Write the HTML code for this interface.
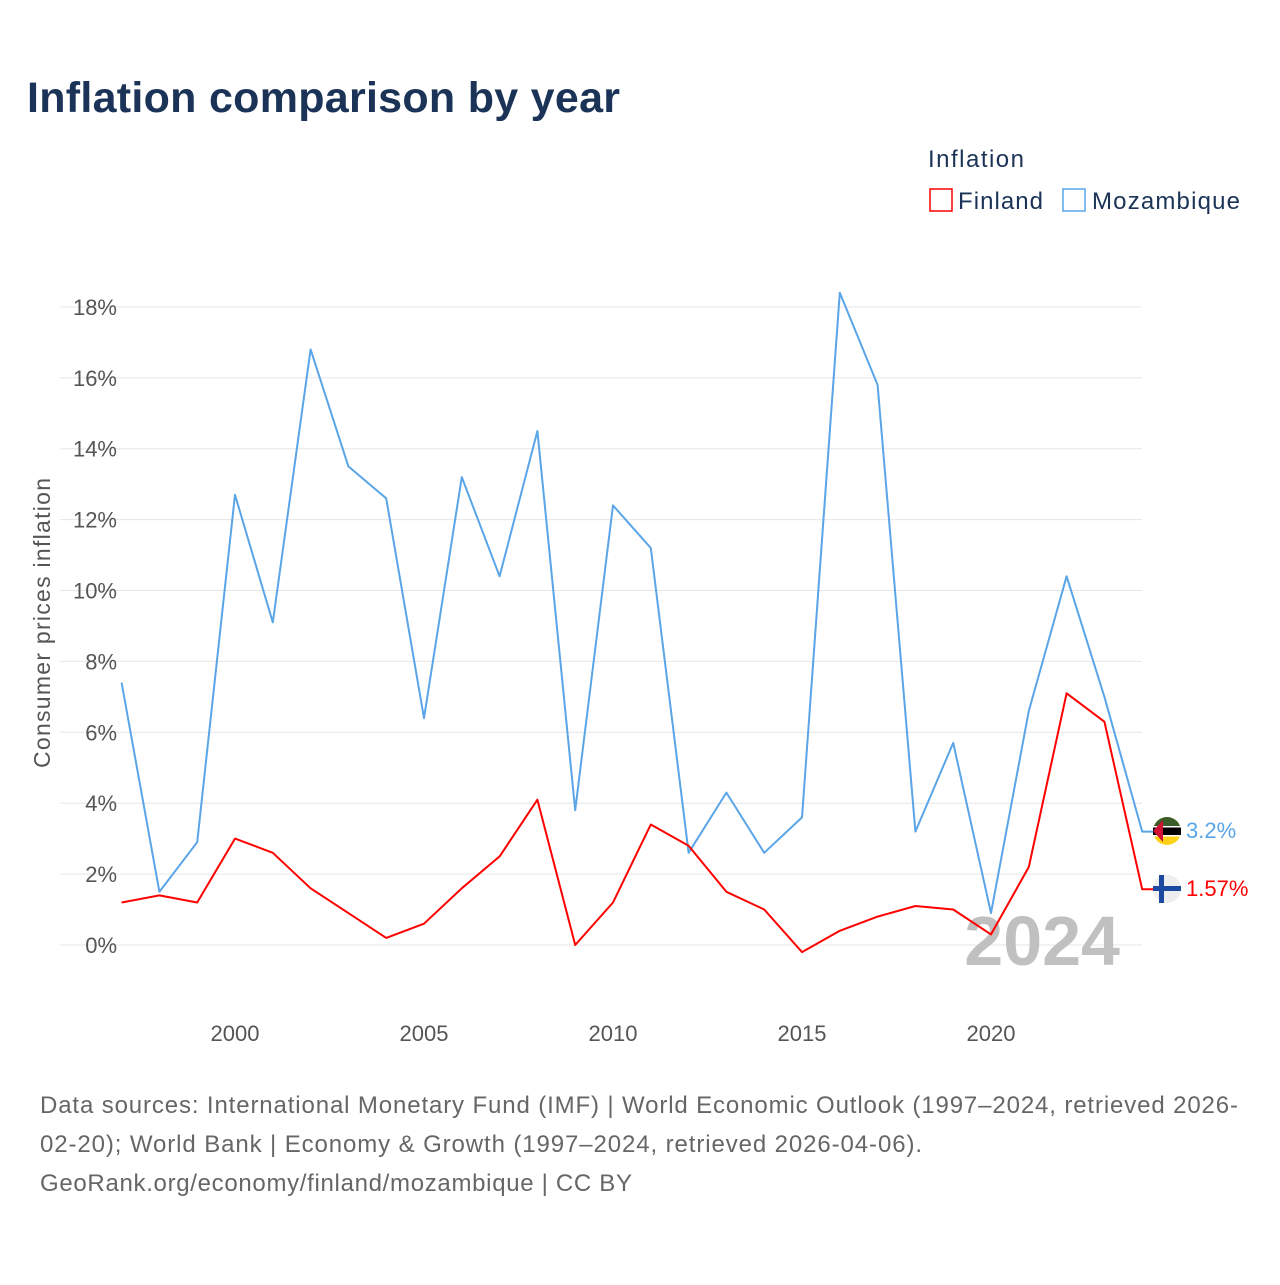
<!DOCTYPE html>
<html><head><meta charset="utf-8"><style>
body{margin:0;background:#fff;font-family:"Liberation Sans",sans-serif;}
svg text{font-family:"Liberation Sans",sans-serif;}
</style></head><body>
<svg width="1280" height="1280" viewBox="0 0 1280 1280">
<text x="27" y="112" font-size="43" font-weight="bold" fill="#1a3356" textLength="593">Inflation comparison by year</text>
<g>
<text x="928" y="167" font-size="24" fill="#1a3356" textLength="96">Inflation</text>
<g><rect x="930" y="189" width="22" height="22" fill="none" stroke="#f00" stroke-width="1.5"/><text x="958" y="209" font-size="24" fill="#1a3356" textLength="85">Finland</text></g>
<g><rect x="1063" y="189" width="22" height="22" fill="none" stroke="#5aa5e8" stroke-width="1.5"/><text x="1092" y="209" font-size="24" fill="#1a3356" textLength="148">Mozambique</text></g>
</g>
<g id="grid"></g>
<g id="yticks"></g>
<g id="xticks"></g>
<text transform="translate(50,623) rotate(-90)" text-anchor="middle" font-size="23" fill="#555" textLength="290">Consumer prices inflation</text>
<text x="1120" y="965" text-anchor="end" font-size="70" font-weight="bold" fill="#c0c0c0">2024</text>
<g id="series"></g>
<g>
<circle cx="1167" cy="831" r="14" fill="#fcd116"/><path d="M1153,831 A14,14 0 0 1 1181,831 Z" fill="#3a5e2a"/><rect x="1153" y="827" width="28" height="8" fill="#000"/><rect x="1153" y="826" width="28" height="1.5" fill="#fff"/><rect x="1153" y="835" width="28" height="1.5" fill="#fff"/><path d="M1153,831 L1163,820 L1163,842 Z" fill="#d21034"/>
</g>
<g>
<circle cx="1167" cy="889" r="14" fill="#eeeeee"/><rect x="1153" y="886" width="28" height="5" fill="#1b4aa0"/><rect x="1159" y="875" width="5" height="28" fill="#1b4aa0"/>
</g>
<text x="1186" y="838" font-size="22" fill="#5aa5e8">3.2%</text>
<text x="1186" y="896" font-size="22" fill="#f00">1.57%</text>
<g font-size="24" fill="#666">
<text x="40" y="1113" textLength="1198">Data sources: International Monetary Fund (IMF) | World Economic Outlook (1997–2024, retrieved 2026-</text>
<text x="40" y="1152" textLength="882">02-20); World Bank | Economy &amp; Growth (1997–2024, retrieved 2026-04-06).</text>
<text x="40" y="1191" textLength="592">GeoRank.org/economy/finland/mozambique | CC BY</text>
</g>
</svg>
<script>
const years=[1997,1998,1999,2000,2001,2002,2003,2004,2005,2006,2007,2008,2009,2010,2011,2012,2013,2014,2015,2016,2017,2018,2019,2020,2021,2022,2023,2024];
const mozambique=[7.4,1.5,2.9,12.7,9.1,16.8,13.5,12.6,6.4,13.2,10.4,14.5,3.8,12.4,11.2,2.6,4.3,2.6,3.6,18.4,15.8,3.2,5.7,0.9,6.6,10.4,7.0,3.2];
const finland=[1.2,1.4,1.2,3.0,2.6,1.6,0.9,0.2,0.6,1.6,2.5,4.1,0.0,1.2,3.4,2.8,1.5,1.0,-0.2,0.4,0.8,1.1,1.0,0.3,2.2,7.1,6.3,1.57];
const yTicks=[0,2,4,6,8,10,12,14,16,18];
const xTicks=[2000,2005,2010,2015,2020];
const NS="http://www.w3.org/2000/svg";
const xS=y=>121.6+(y-1997)*37.8;
const yS=v=>945-v*35.45;
function mk(t,a,p){const e=document.createElementNS(NS,t);for(const k in a)e.setAttribute(k,a[k]);p.appendChild(e);return e;}
const grid=document.getElementById('grid'),yt=document.getElementById('yticks'),xt=document.getElementById('xticks'),ser=document.getElementById('series');
yTicks.forEach(v=>{
 const l=mk('line',{x1:60,x2:1142,y1:yS(v),y2:yS(v),stroke:'#e6e6e6','stroke-width':1},grid);
 
 
 const t=mk('text',{x:117,y:yS(v)+8,'text-anchor':'end','font-size':22,fill:'#555'},yt);
 t.textContent=v+'%';
 
 
});
xTicks.forEach(v=>{
 const t=mk('text',{x:xS(v),y:1041,'text-anchor':'middle','font-size':22,fill:'#555'},xt);
 t.textContent=v;
 
 
});
function line(vals,color,name){
 let d=vals.map((v,i)=>(i?'L':'M')+xS(years[i]).toFixed(1)+','+yS(v).toFixed(1)).join(' ');
 d+=' L'+(xS(years[years.length-1])+12)+','+yS(vals[vals.length-1]).toFixed(1);
 const p=mk('path',{d:d,fill:'none',stroke:color,'stroke-width':2,'stroke-linejoin':'round'},ser);
 
 
}
line(mozambique,'#5aa5e8','mozambique-line');
line(finland,'#f00','finland-line');
</script>
</body></html>
